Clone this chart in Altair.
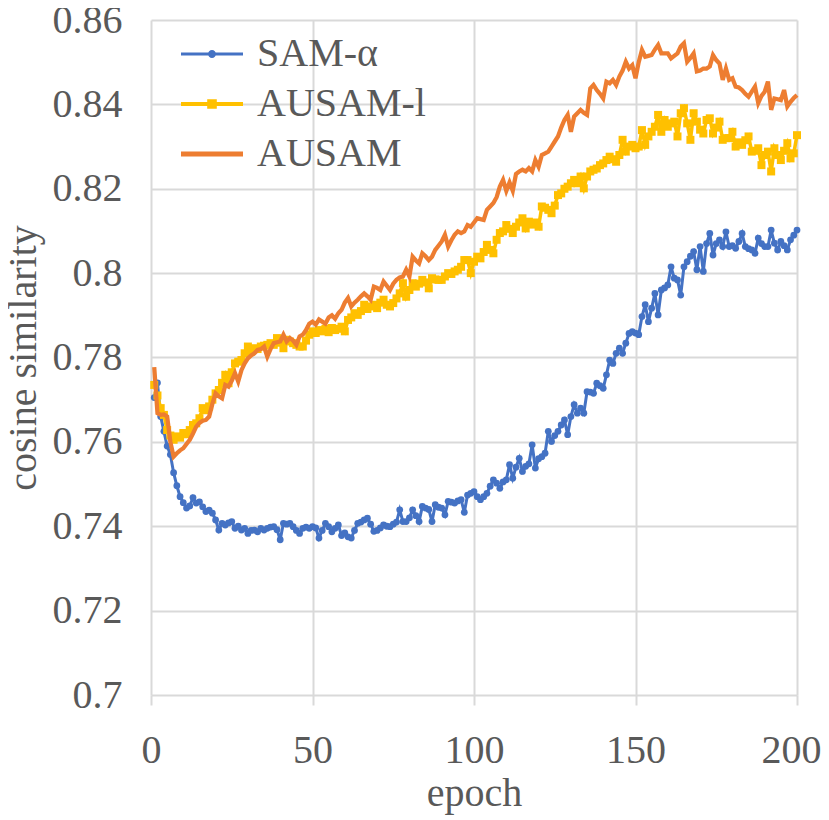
import altair as alt
import pandas as pd

epochs = list(range(1, 201))

sam_alpha = [
    0.7705, 0.7740, 0.7660, 0.7625, 0.7590, 0.7570, 0.7527, 0.7496, 0.7470, 0.7456,
    0.7443, 0.7448, 0.7468, 0.7455, 0.7458, 0.7446, 0.7435, 0.7438, 0.7431, 0.7415,
    0.7391, 0.7407, 0.7403, 0.7408, 0.7411, 0.7395, 0.7400, 0.7391, 0.7395, 0.7383,
    0.7390, 0.7391, 0.7387, 0.7395, 0.7391, 0.7395, 0.7398, 0.7399, 0.7392, 0.7368,
    0.7407, 0.7405, 0.7407, 0.7399, 0.7390, 0.7383, 0.7395, 0.7398, 0.7395, 0.7399,
    0.7396, 0.7372, 0.7390, 0.7407, 0.7399, 0.7387, 0.7395, 0.7403, 0.7378, 0.7384,
    0.7375, 0.7372, 0.7390, 0.7407, 0.7410, 0.7415, 0.7419, 0.7405, 0.7388, 0.7390,
    0.7396, 0.7403, 0.7400, 0.7399, 0.7405, 0.7410, 0.7439, 0.7411, 0.7411, 0.7420,
    0.7439, 0.7425, 0.7411, 0.7447, 0.7443, 0.7440, 0.7411, 0.7451, 0.7445, 0.7443,
    0.7427, 0.7459, 0.7457, 0.7455, 0.7460, 0.7463, 0.7433, 0.7474, 0.7478, 0.7482,
    0.7470, 0.7463, 0.7470, 0.7478, 0.7495, 0.7510, 0.7502, 0.7490, 0.7505, 0.7510,
    0.7546, 0.7514, 0.7540, 0.7561, 0.7530, 0.7542, 0.7548, 0.7593, 0.7538, 0.7560,
    0.7565, 0.7573, 0.7625, 0.7601, 0.7615, 0.7625, 0.7640, 0.7652, 0.7617, 0.7660,
    0.7688, 0.7668, 0.7680, 0.7668, 0.7719, 0.7718, 0.7715, 0.7739, 0.7733, 0.7727,
    0.7759, 0.7794, 0.7786, 0.7810, 0.7822, 0.7810, 0.7834, 0.7857, 0.7861, 0.7858,
    0.7854, 0.7897, 0.7925, 0.7885, 0.7917, 0.7952, 0.7901, 0.7960, 0.7965, 0.7972,
    0.8015, 0.7988, 0.7984, 0.7948, 0.8015, 0.8027, 0.8040, 0.8051, 0.8008, 0.8063,
    0.8004, 0.8070, 0.8094, 0.8043, 0.8070, 0.8079, 0.8063, 0.8098, 0.8063, 0.8065,
    0.8059, 0.8075, 0.8094, 0.8063, 0.8058, 0.8055, 0.8047, 0.8083, 0.8070, 0.8063,
    0.8063, 0.8102, 0.8071, 0.8055, 0.8075, 0.8065, 0.8055, 0.8079, 0.8090, 0.8102,
]

ausam_l = [
    0.7735, 0.7710, 0.7680, 0.7664, 0.7628, 0.7615, 0.7605, 0.7613, 0.7610, 0.7621,
    0.7618, 0.7628, 0.7640, 0.7644, 0.7656, 0.7680, 0.7675, 0.7684, 0.7700, 0.7715,
    0.7723, 0.7740, 0.7759, 0.7739, 0.7765, 0.7786, 0.7790, 0.7794, 0.7810, 0.7826,
    0.7814, 0.7822, 0.7820, 0.7826, 0.7828, 0.7830, 0.7834, 0.7830, 0.7846, 0.7835,
    0.7822, 0.7842, 0.7838, 0.7834, 0.7830, 0.7826, 0.7826, 0.7840, 0.7854, 0.7862,
    0.7858, 0.7865, 0.7862, 0.7868, 0.7860, 0.7870, 0.7865, 0.7868, 0.7873, 0.7862,
    0.7889, 0.7895, 0.7905, 0.7901, 0.7910, 0.7925, 0.7915, 0.7921, 0.7925, 0.7917,
    0.7930, 0.7937, 0.7925, 0.7921, 0.7929, 0.7940, 0.7952, 0.7976, 0.7944, 0.7960,
    0.7976, 0.7968, 0.7975, 0.7984, 0.7978, 0.7964, 0.7988, 0.7985, 0.7984, 0.7984,
    0.7992, 0.8000, 0.7998, 0.8004, 0.8008, 0.8015, 0.8031, 0.8031, 0.8000, 0.8027,
    0.8039, 0.8035, 0.8050, 0.8067, 0.8055, 0.8047, 0.8079, 0.8095, 0.8099, 0.8114,
    0.8105, 0.8095, 0.8110, 0.8120, 0.8130, 0.8106, 0.8122, 0.8115, 0.8120, 0.8110,
    0.8158, 0.8155, 0.8150, 0.8142, 0.8160, 0.8185, 0.8189, 0.8200, 0.8205, 0.8213,
    0.8221, 0.8213, 0.8229, 0.8201, 0.8229, 0.8241, 0.8245, 0.8248, 0.8256, 0.8260,
    0.8268, 0.8276, 0.8270, 0.8264, 0.8280, 0.8316, 0.8288, 0.8300, 0.8304, 0.8296,
    0.8300, 0.8339, 0.8304, 0.8324, 0.8335, 0.8347, 0.8375, 0.8335, 0.8363, 0.8347,
    0.8355, 0.8359, 0.8324, 0.8379, 0.8391, 0.8355, 0.8316, 0.8379, 0.8359, 0.8340,
    0.8331, 0.8363, 0.8367, 0.8331, 0.8345, 0.8359, 0.8316, 0.8320, 0.8320, 0.8335,
    0.8300, 0.8310, 0.8304, 0.8315, 0.8324, 0.8288, 0.8290, 0.8296, 0.8256, 0.8280,
    0.8288, 0.8241, 0.8296, 0.8280, 0.8268, 0.8290, 0.8308, 0.8272, 0.8284, 0.8327,
]

ausam = [
    0.7777, 0.7668, 0.7664, 0.7665, 0.7660, 0.7600, 0.7565, 0.7573, 0.7580, 0.7585,
    0.7595, 0.7605, 0.7620, 0.7636, 0.7645, 0.7650, 0.7652, 0.7660, 0.7690, 0.7715,
    0.7708, 0.7703, 0.7735, 0.7731, 0.7745, 0.7763, 0.7743, 0.7770, 0.7786, 0.7798,
    0.7805, 0.7810, 0.7818, 0.7820, 0.7826, 0.7802, 0.7820, 0.7834, 0.7836, 0.7838,
    0.7854, 0.7838, 0.7846, 0.7840, 0.7830, 0.7850, 0.7854, 0.7865, 0.7880, 0.7885,
    0.7878, 0.7890, 0.7885, 0.7880, 0.7895, 0.7900, 0.7892, 0.7905, 0.7913, 0.7930,
    0.7941, 0.7921, 0.7930, 0.7937, 0.7945, 0.7952, 0.7945, 0.7937, 0.7968, 0.7965,
    0.7960, 0.7980, 0.7970, 0.7960, 0.7975, 0.7984, 0.7990, 0.7992, 0.8008, 0.7992,
    0.8039, 0.8030, 0.8023, 0.8047, 0.8040, 0.8031, 0.8039, 0.8055, 0.8065, 0.8075,
    0.8091, 0.8063, 0.8078, 0.8091, 0.8099, 0.8095, 0.8099, 0.8114, 0.8110, 0.8120,
    0.8130, 0.8128, 0.8126, 0.8150, 0.8158, 0.8166, 0.8180, 0.8205, 0.8221, 0.8195,
    0.8215, 0.8195, 0.8235, 0.8241, 0.8245, 0.8241, 0.8249, 0.8241, 0.8268, 0.8252,
    0.8280, 0.8284, 0.8288, 0.8300, 0.8312, 0.8324, 0.8345, 0.8363, 0.8375, 0.8335,
    0.8371, 0.8379, 0.8387, 0.8380, 0.8375, 0.8438, 0.8446, 0.8434, 0.8425, 0.8414,
    0.8454, 0.8450, 0.8458, 0.8446, 0.8466, 0.8480, 0.8501, 0.8485, 0.8493, 0.8462,
    0.8500, 0.8529, 0.8513, 0.8515, 0.8517, 0.8530, 0.8541, 0.8521, 0.8521, 0.8521,
    0.8509, 0.8515, 0.8521, 0.8537, 0.8545, 0.8501, 0.8510, 0.8521, 0.8478, 0.8480,
    0.8485, 0.8485, 0.8490, 0.8517, 0.8505, 0.8497, 0.8458, 0.8485, 0.8458, 0.8462,
    0.8442, 0.8440, 0.8434, 0.8425, 0.8418, 0.8430, 0.8442, 0.8403, 0.8420, 0.8430,
    0.8454, 0.8387, 0.8414, 0.8412, 0.8410, 0.8434, 0.8395, 0.8406, 0.8415, 0.8422,
]

series_names = ["SAM-α", "AUSAM-l", "AUSAM"]
series_colors = ["#4472C4", "#FFC000", "#ED7D31"]
x_ticks = [0, 50, 100, 150, 200]
y_ticks = [0.70, 0.72, 0.74, 0.76, 0.78, 0.80, 0.82, 0.84, 0.86]

# legend symbols: line + marker, in symbol units (1 unit = 20px at size 1600)
legend_paths = [
    "M-1.55,-0.075H1.55V0.075H-1.55Z M0.2,0A0.2,0.2,0,1,1,-0.2,0A0.2,0.2,0,1,1,0.2,0Z",
    "M-1.55,-0.1H1.55V0.1H-1.55Z M-0.24,-0.24H0.24V0.24H-0.24Z",
    "M-1.55,-0.12H1.55V0.12H-1.55Z",
]

n = len(epochs)
df = pd.DataFrame({
    "epoch": epochs * 3,
    "value": sam_alpha[:n] + ausam_l[:n] + ausam[:n],
    "series": [series_names[0]] * n + [series_names[1]] * n + [series_names[2]] * n,
})

FONT = "Liberation Serif"
TXT = "#595959"
GRID = "#D9D9D9"

x_enc = alt.X(
    "epoch:Q",
    scale=alt.Scale(domain=[0, 200], nice=False, zero=False),
    axis=alt.Axis(
        values=x_ticks, title="epoch", grid=True, domain=False,
        ticks=True, tickSize=10, tickColor=GRID, tickWidth=2,
        labelPadding=57, labelBaseline="alphabetic",
        labelOffset={"condition": {"test": "datum.value === 200", "value": -6}, "value": 0},
        titleY=110, titleBaseline="alphabetic",
        labelFlush=False, labelOverlap=False,
        labelFont=FONT, titleFont=FONT,
    ),
)
y_enc = alt.Y(
    "value:Q",
    scale=alt.Scale(domain=[0.7, 0.86], nice=False, zero=False),
    axis=alt.Axis(
        values=y_ticks, format="~g", title="cosine similarity", grid=True,
        domain=False, ticks=False, tickSize=0, labelPadding=29,
        titleX=-116, titleY=337.5, titleAngle=270,
        titleBaseline="alphabetic", titleAlign="center",
        labelOverlap=False, labelFont=FONT, titleFont=FONT,
    ),
)

base = alt.Chart(df)

def sel(name):
    return base.transform_filter(alt.datum.series == name)

blue_line = sel("SAM-α").mark_line(color=series_colors[0], strokeWidth=3).encode(x=x_enc, y=y_enc)
blue_pts = sel("SAM-α").mark_point(
    filled=True, shape="circle", size=46, color=series_colors[0], opacity=1
).encode(x=x_enc, y=y_enc)
yellow_line = sel("AUSAM-l").mark_line(color=series_colors[1], strokeWidth=3.5).encode(x=x_enc, y=y_enc)
yellow_pts = sel("AUSAM-l").mark_point(
    filled=True, shape="square", size=64, color=series_colors[1], opacity=1
).encode(x=x_enc, y=y_enc)
orange_line = sel("AUSAM").mark_line(color=series_colors[2], strokeWidth=4.25).encode(x=x_enc, y=y_enc)

legend_cfg = alt.Legend(
    title=None, orient="none", legendX=41, legendY=14,
    symbolSize=1600, symbolOpacity=1, symbolStrokeWidth=0,
    labelFont=FONT, labelFontSize=40, labelColor=TXT, labelOffset=25,
    labelLimit=0, rowPadding=10, padding=0,
)
legend_layer = base.transform_filter("false").mark_point(filled=True, opacity=1).encode(
    color=alt.Color("series:N", scale=alt.Scale(domain=series_names, range=series_colors), legend=legend_cfg),
    shape=alt.Shape("series:N", scale=alt.Scale(domain=series_names, range=legend_paths), legend=legend_cfg),
)

chart = alt.layer(
    blue_line, blue_pts, yellow_line, yellow_pts, orange_line, legend_layer
).properties(
    width=646, height=675,
    autosize=alt.AutoSizeParams(type="none"),
    padding={"left": 143, "top": 12, "right": 24, "bottom": 125},
    background="white",
).configure(
    font=FONT
).configure_view(
    stroke="transparent"
).configure_axis(
    gridColor=GRID, gridWidth=2,
    labelFont=FONT, labelFontSize=40, labelColor=TXT,
    titleFont=FONT, titleFontSize=40, titleColor=TXT, titleFontWeight="normal",
).configure_legend(
    labelFont=FONT
)

chart.save("out.html", embed_options={"renderer": "svg", "actions": False})
